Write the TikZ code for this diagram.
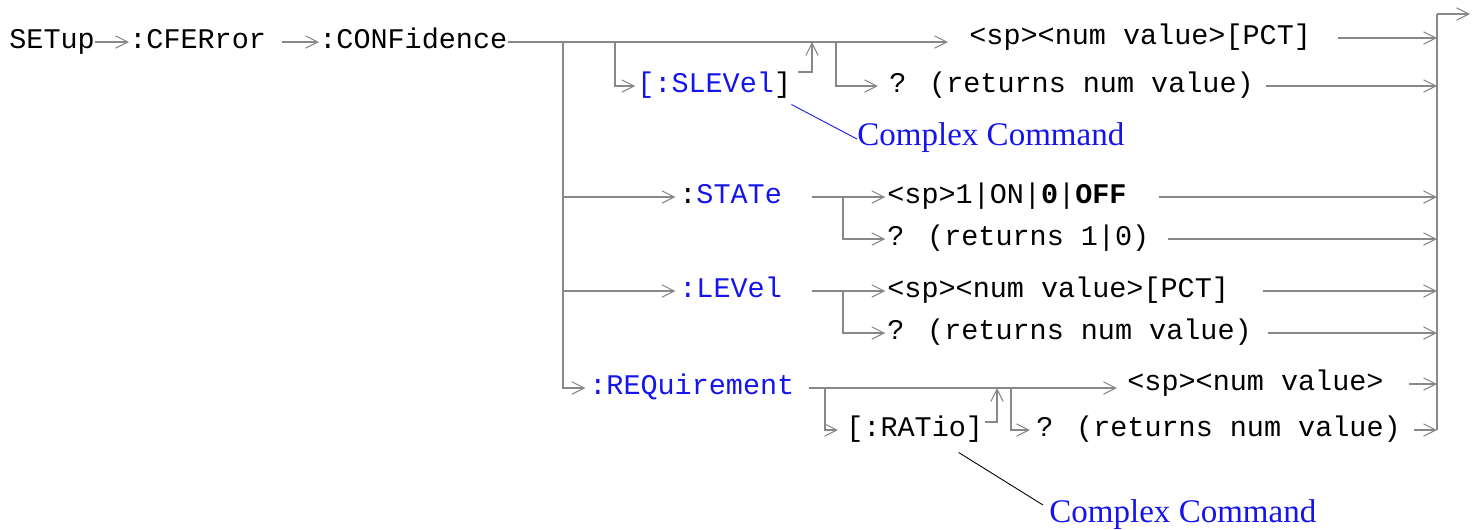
\documentclass[tikz,border=0pt]{standalone}
\usepackage{fontspec}
\setmainfont{Liberation Serif}
\newfontfamily\cmdfont{Liberation Mono}
\usetikzlibrary{arrows.meta}
\definecolor{wiregray}{RGB}{136,136,136}
\definecolor{cmdblue}{RGB}{20,20,235}
\newcommand{\kwd}[1]{\textcolor{cmdblue}{#1}}

\begin{document}
\begin{tikzpicture}[
  x=0.02cm, y=-0.02cm,
  cmd/.style={font=\cmdfont\fontsize{16.2}{19}\selectfont, anchor=west, inner sep=0pt, text height=7pt, text depth=0pt},
  note/.style={font=\fontsize{18.8}{22}\selectfont, text=cmdblue, anchor=west, inner sep=0pt, text height=7pt, text depth=0pt},
  wire/.style={draw=wiregray, line width=0.85pt},
  arr/.style={wire, -{Straight Barb[length=7pt, width=7pt, line width=0.6pt]}},
  lead/.style={line width=0.5pt}
]
\useasboundingbox (0,0) rectangle (1483,529);

% command words
\node[cmd] (setup) at (9,42) {SETup};
\node[cmd] (cferror) at (129,42) {:CFERror};
\node[cmd] (confid) at (319,42) {:CONFidence};
\node[cmd] (pct1) at (969,38) {<sp><num value>[PCT]};
\node[cmd] (slevel) at (637,86) {\kwd{[:SLEVel}]};
\node[cmd] (query1) at (889,86) {? (returns num value)};
\node[note] (cc1) at (857,139) {Complex Command};
\node[cmd] (state) at (679,197) {:\kwd{STATe}};
\node[cmd] (onoff) at (887,197) {<sp>1|ON|\textbf{0}|\textbf{OFF}};
\node[cmd] (query2) at (887,239) {? (returns 1|0)};
\node[cmd] (level) at (679,291) {\kwd{:LEVel}};
\node[cmd] (pct2) at (887,291) {<sp><num value>[PCT]};
\node[cmd] (query3) at (887,333) {? (returns num value)};
\node[cmd] (requir) at (589,388) {\kwd{:REQuirement}};
\node[cmd] (numval) at (1127,384) {<sp><num value>};
\node[cmd] (ratio) at (846,430) {[:RATio]};
\node[cmd] (query4) at (1036,430) {? (returns num value)};
\node[note] (cc2) at (1049,516) {Complex Command};

% junctions
\coordinate (trunk) at (563,42);
\coordinate (slv) at (615,42);
\coordinate (slvback) at (812,42);
\coordinate (qry1) at (836,42);
\coordinate (t1) at (948,42);
\coordinate (stfork) at (843,197);
\coordinate (lvfork) at (843,291);
\coordinate (rqfork) at (825,388);
\coordinate (rqback) at (997,388);
\coordinate (qry4) at (1011,388);
\coordinate (bartop) at (1437,14);
\coordinate (barbot) at (1437,430);
\coordinate (exit) at (1470,14);

% left part
\draw[arr] (setup) -- (cferror);
\draw[arr, shorten <=0.32cm] (cferror) -- (confid);
\draw[arr] (confid) -- (t1);
\draw[arr, shorten >=2pt] (trunk) |- (requir);
\draw[arr, shorten >=2pt] (trunk |- state) -- (state);
\draw[arr, shorten >=2pt] (trunk |- level) -- (level);

% optional SLEVel
\draw[arr, shorten >=1pt] (slv) |- (slevel);
\draw[arr] ([xshift=0.14cm, yshift=0.28cm]slevel.east) -| (slvback);
\draw[arr, shorten >=0.22cm] (qry1) |- (query1);

% STATe and LEVel
\draw[arr, shorten >=1pt] ([xshift=0.6cm]state.east) -- (onoff);
\draw[arr, shorten >=1pt] (stfork) |- (query2);
\draw[arr, shorten >=1pt] ([xshift=0.6cm]level.east) -- (pct2);
\draw[arr, shorten >=1pt] (lvfork) |- (query3);

% REQuirement
\draw[arr, shorten >=0.2cm] ([xshift=0.28cm]requir.east) -- (requir -| numval.west);
\draw[arr, shorten >=0.16cm] (rqfork) |- (ratio);
\draw[arr] ([xshift=0.04cm, yshift=0.16cm]ratio.east) -| (rqback);
\draw[arr, shorten >=0.12cm] (qry4) |- (query4);

% to the end bar
\draw[wire] (barbot) -- (bartop);
\draw[arr] (bartop) -- (exit);
\draw[arr] ([xshift=0.54cm]pct1.east) -- (pct1 -| bartop);
\draw[arr] ([xshift=0.24cm]query1.east) -- (query1 -| bartop);
\draw[arr] ([xshift=0.64cm]onoff.east) -- (onoff -| bartop);
\draw[arr] ([xshift=0.36cm]query2.east) -- (query2 -| bartop);
\draw[arr] ([xshift=0.68cm]pct2.east) -- (pct2 -| bartop);
\draw[arr] ([xshift=0.32cm]query3.east) -- (query3 -| bartop);
\draw[arr] ([xshift=0.5cm]numval.east) -- (numval -| bartop);
\draw[arr] ([xshift=0.26cm]query4.east) -- (query4 -| bartop);

% pointers to the notes
\draw[cmdblue, lead] ([yshift=-0.24cm]slevel.south east) -- (cc1.west);
\draw[lead] ([xshift=0.88cm, yshift=-0.32cm]ratio.south) -- ([xshift=-0.12cm, yshift=0.22cm]cc2.west);
\end{tikzpicture}
\end{document}
